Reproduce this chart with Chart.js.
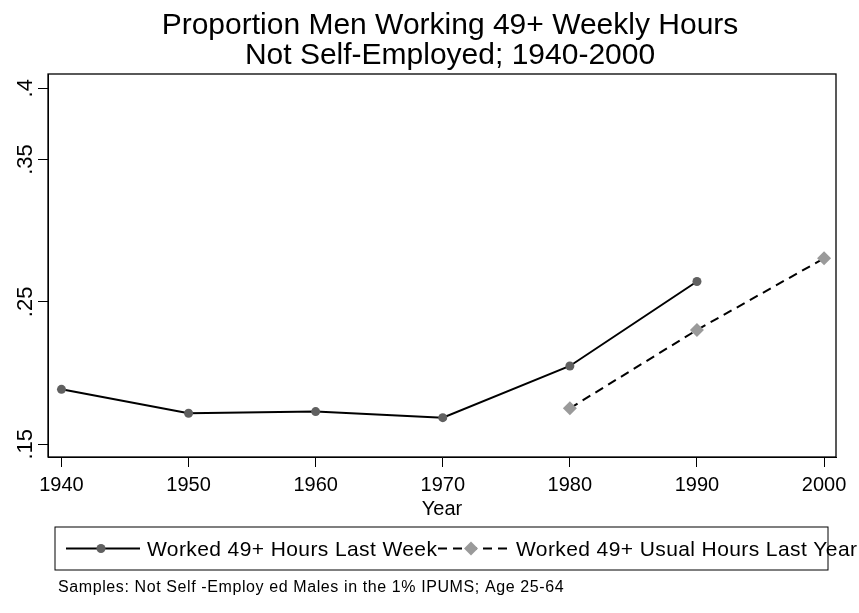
<!DOCTYPE html>
<html>
<head>
<meta charset="utf-8">
<title>Proportion Men Working 49+ Weekly Hours</title>
<script src="https://cdn.jsdelivr.net/npm/chart.js@4.4.1/dist/chart.umd.min.js"></script>
<style>
  html, body { margin: 0; padding: 0; background: #fff; }
  canvas { display: block; }
</style>
</head>
<body>
<canvas id="chart" width="859" height="613"></canvas>
<script>
// datos
const years = [1940, 1950, 1960, 1970, 1980, 1990, 2000];
const weeklyHours = [0.1886, 0.1718, 0.173, 0.1687, 0.205, 0.2643, null];
const usualHours = [null, null, null, null, 0.1753, 0.2303, 0.2806];
const yTicks = [0.15, 0.25, 0.35, 0.4];
const yTickLabels = ['.15', '.25', '.35', '.4'];
const xTicks = [1940, 1950, 1960, 1970, 1980, 1990, 2000];

const titleLines = ['Proportion Men Working 49+ Weekly Hours', 'Not Self-Employed; 1940-2000'];
const xTitle = 'Year';
const legendLabels = ['Worked 49+ Hours Last Week', 'Worked 49+ Usual Hours Last Year'];
const note = 'Samples: Not Self -Employ ed Males in the 1% IPUMS; Age 25-64';

const FONT = "'Liberation Sans', Arial, Helvetica, sans-serif";

function toPoints(values) {
  return years.map((y, i) => ({ x: y, y: values[i] }));
}

// textos, marco y leyenda al estilo Stata
const stataDecor = {
  id: 'stataDecor',
  beforeDraw(chart) {
    const ctx = chart.ctx;
    ctx.save();
    ctx.fillStyle = '#fff';
    ctx.fillRect(0, 0, chart.width, chart.height);
    ctx.restore();
  },
  afterDraw(chart) {
    const ctx = chart.ctx;
    const area = chart.chartArea;
    const yScale = chart.scales.y;
    ctx.save();

    // marco
    ctx.strokeStyle = '#000';
    ctx.lineWidth = 1.3;
    ctx.strokeRect(area.left, area.top, area.right - area.left, area.bottom - area.top);

    // titulo
    ctx.fillStyle = '#000';
    ctx.font = '30px ' + FONT;
    ctx.textAlign = 'center';
    ctx.textBaseline = 'alphabetic';
    ctx.fillText(titleLines[0], 450, 34);
    ctx.fillText(titleLines[1], 450, 64);

    // etiquetas del eje y, giradas
    ctx.font = '22px ' + FONT;
    yTicks.forEach((v, i) => {
      const py = yScale.getPixelForValue(v);
      ctx.save();
      ctx.translate(32, py);
      ctx.rotate(-Math.PI / 2);
      ctx.textAlign = 'center';
      ctx.fillText(yTickLabels[i], 0, 0);
      ctx.restore();
    });

    // titulo del eje x
    ctx.font = '20px ' + FONT;
    ctx.textAlign = 'center';
    ctx.fillText(xTitle, (area.left + area.right) / 2, 515);

    // leyenda
    const lx = 55, ly = 527, lw = 773, lh = 43;
    ctx.strokeStyle = '#000';
    ctx.lineWidth = 1;
    ctx.strokeRect(lx, ly, lw, lh);
    const cy = ly + lh / 2;

    ctx.strokeStyle = '#000';
    ctx.lineWidth = 2;
    ctx.beginPath();
    ctx.moveTo(66, cy);
    ctx.lineTo(140, cy);
    ctx.stroke();
    ctx.fillStyle = '#606060';
    ctx.beginPath();
    ctx.arc(101, cy, 4.5, 0, Math.PI * 2);
    ctx.fill();

    ctx.fillStyle = '#000';
    ctx.textAlign = 'left';
    ctx.font = '21px ' + FONT;
    ctx.letterSpacing = '0.4px';
    ctx.fillText(legendLabels[0], 147, cy + 7);

    ctx.setLineDash([9, 6]);
    ctx.beginPath();
    ctx.moveTo(438, cy);
    ctx.lineTo(509, cy);
    ctx.stroke();
    ctx.setLineDash([]);
    ctx.fillStyle = '#9a9a9a';
    ctx.beginPath();
    ctx.moveTo(471, cy - 7);
    ctx.lineTo(478, cy);
    ctx.lineTo(471, cy + 7);
    ctx.lineTo(464, cy);
    ctx.closePath();
    ctx.fill();

    ctx.fillStyle = '#000';
    ctx.fillText(legendLabels[1], 516, cy + 7);

    // nota
    ctx.font = '16px ' + FONT;
    ctx.letterSpacing = '0.6px';
    ctx.fillText(note, 58, 592);
    ctx.letterSpacing = '0px';

    ctx.restore();
  }
};

new Chart(document.getElementById('chart').getContext('2d'), {
  type: 'line',
  data: {
    datasets: [
      {
        label: legendLabels[0],
        data: toPoints(weeklyHours),
        borderColor: '#000',
        borderWidth: 2,
        pointStyle: 'circle',
        pointRadius: 4.5,
        pointBackgroundColor: '#606060',
        pointBorderWidth: 0,
        tension: 0,
        spanGaps: false
      },
      {
        label: legendLabels[1],
        data: toPoints(usualHours),
        borderColor: '#000',
        borderWidth: 2,
        borderDash: [9, 6],
        pointStyle: 'rectRot',
        pointRadius: 7,
        pointBackgroundColor: '#9a9a9a',
        pointBorderWidth: 0,
        tension: 0,
        spanGaps: false
      }
    ]
  },
  options: {
    responsive: false,
    animation: false,
    layout: {
      padding: { left: 0, top: 74, right: 23, bottom: 116 }
    },
    plugins: {
      legend: { display: false },
      title: { display: false },
      tooltip: { enabled: false }
    },
    scales: {
      x: {
        type: 'linear',
        min: 1938.94,
        max: 2000.94,
        afterBuildTicks(scale) {
          scale.ticks = xTicks.map((v) => ({ value: v }));
        },
        afterFit(scale) {
          scale.height = 40;
        },
        ticks: {
          color: '#000',
          font: { size: 20, family: FONT },
          padding: 6,
          maxRotation: 0,
          callback: (v) => String(v)
        },
        grid: {
          drawOnChartArea: false,
          drawTicks: true,
          tickLength: 10,
          tickColor: '#000',
          tickWidth: 1
        },
        border: { display: true, color: '#000', width: 1 }
      },
      y: {
        type: 'linear',
        min: 0.1411,
        max: 0.41,
        afterBuildTicks(scale) {
          scale.ticks = yTicks.map((v) => ({ value: v }));
        },
        afterFit(scale) {
          scale.width = 48;
        },
        ticks: { display: false },
        grid: {
          drawOnChartArea: false,
          drawTicks: true,
          tickLength: 10,
          tickColor: '#000',
          tickWidth: 1
        },
        border: { display: true, color: '#000', width: 1 }
      }
    }
  },
  plugins: [stataDecor]
});
</script>
</body>
</html>
